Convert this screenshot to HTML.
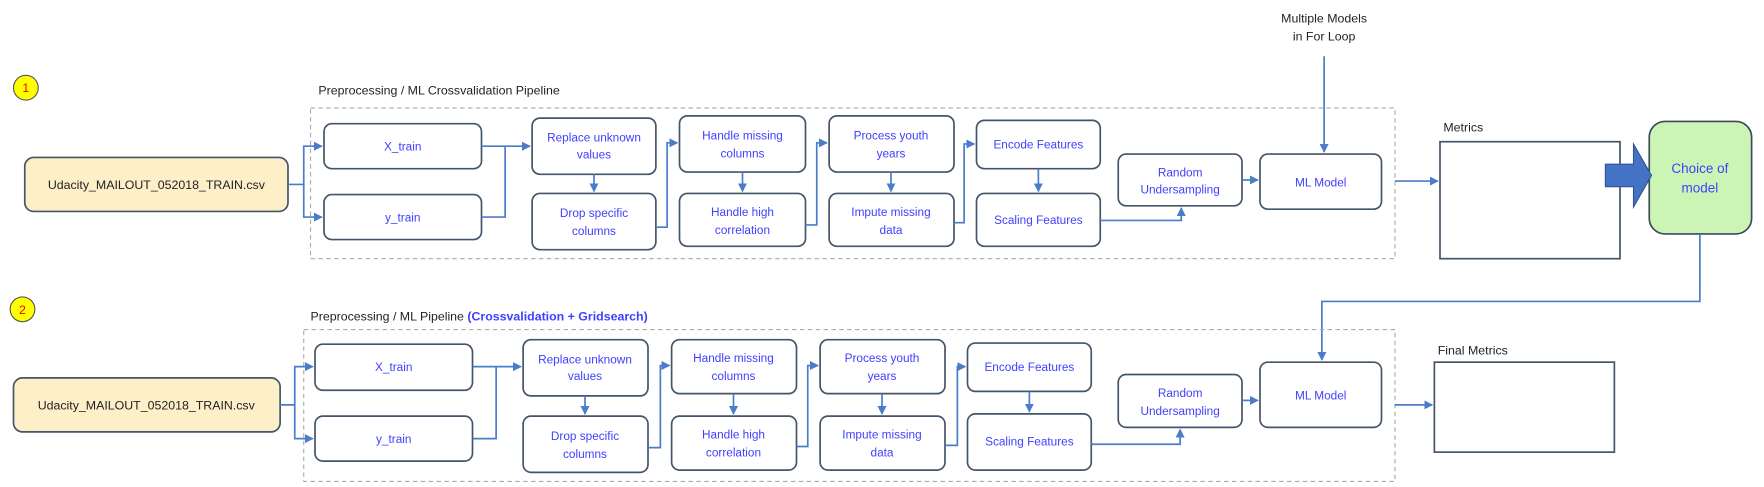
<!DOCTYPE html>
<html><head><meta charset="utf-8"><style>
html,body{margin:0;padding:0;background:#fff;}
svg{display:block;}
text{font-family:"Liberation Sans",sans-serif;}
.b{fill:#fff;stroke:#44546a;stroke-width:1.5;}
.t{fill:#4040ff;font-size:10.5px;text-anchor:middle;}
.k{fill:#222;font-size:11px;}
.c{fill:none;stroke:#4a7cc9;stroke-width:1.5;}
.d{fill:none;stroke:#aaa;stroke-width:1;stroke-dasharray:4,3;}
</style></head><body>
<svg width="1764" height="487" viewBox="0 0 1568 433" preserveAspectRatio="none" xmlns="http://www.w3.org/2000/svg">
<defs><marker id="a" markerWidth="8" markerHeight="8" refX="7" refY="4" orient="auto" markerUnits="userSpaceOnUse"><path d="M0,0 L8,4 L0,8 z" fill="#4a7cc9"/></marker></defs>

<!-- ROW 1 -->
<circle cx="23" cy="78" r="11" fill="#ffff00" stroke="#555" stroke-width="1"/>
<text x="23" y="82" font-size="11" fill="#e00" text-anchor="middle">1</text>
<text class="k" x="283" y="84">Preprocessing / ML Crossvalidation Pipeline</text>
<rect class="d" x="276" y="96" width="964" height="134"/>
<rect x="22" y="140" width="234" height="48" rx="8" fill="#fdf0c8" stroke="#44546a" stroke-width="1.5"/>
<text x="139" y="168" font-size="11" fill="#222" text-anchor="middle">Udacity_MAILOUT_052018_TRAIN.csv</text>

<rect class="b" x="288" y="110" width="140" height="40" rx="7"/><text class="t" x="358" y="134" font-size="12">X_train</text>
<rect class="b" x="288" y="173" width="140" height="40" rx="7"/><text class="t" x="358" y="197">y_train</text>
<path class="c" d="M256,164 H270 V130 H286" marker-end="url(#a)"/>
<path class="c" d="M270,164 V193 H286" marker-end="url(#a)"/>
<path class="c" d="M428,130 H471" marker-end="url(#a)"/>
<path class="c" d="M428,193 H449 V130"/>

<rect class="b" x="473" y="105" width="110" height="50" rx="7"/><text class="t" x="528" y="126">Replace unknown</text><text class="t" x="528" y="141">values</text>
<rect class="b" x="473" y="172" width="110" height="50" rx="7"/><text class="t" x="528" y="193">Drop specific</text><text class="t" x="528" y="209">columns</text>
<path class="c" d="M528,155 V170" marker-end="url(#a)"/>
<path class="c" d="M583,202 H593 V127 H602" marker-end="url(#a)"/>

<rect class="b" x="604" y="103" width="112" height="50" rx="7"/><text class="t" x="660" y="124">Handle missing</text><text class="t" x="660" y="140">columns</text>
<rect class="b" x="604" y="172" width="112" height="47" rx="7"/><text class="t" x="660" y="192">Handle high</text><text class="t" x="660" y="208">correlation</text>
<path class="c" d="M660,153 V170" marker-end="url(#a)"/>
<path class="c" d="M716,200 H726 V127 H735" marker-end="url(#a)"/>

<rect class="b" x="737" y="103" width="111" height="50" rx="7"/><text class="t" x="792" y="124">Process youth</text><text class="t" x="792" y="140">years</text>
<rect class="b" x="737" y="172" width="111" height="47" rx="7"/><text class="t" x="792" y="192">Impute missing</text><text class="t" x="792" y="208">data</text>
<path class="c" d="M792,153 V170" marker-end="url(#a)"/>
<path class="c" d="M848,198 H857 V128 H866" marker-end="url(#a)"/>

<rect class="b" x="868" y="107" width="110" height="43" rx="7"/><text class="t" x="923" y="132">Encode Features</text>
<rect class="b" x="868" y="172" width="110" height="47" rx="7"/><text class="t" x="923" y="199">Scaling Features</text>
<path class="c" d="M923,150 V170" marker-end="url(#a)"/>
<path class="c" d="M978,196 H1050 V185" marker-end="url(#a)"/>

<rect class="b" x="994" y="137" width="110" height="46" rx="7"/><text class="t" x="1049" y="157">Random</text><text class="t" x="1049" y="172">Undersampling</text>
<path class="c" d="M1104,160 H1118" marker-end="url(#a)"/>
<rect class="b" x="1120" y="137" width="108" height="49" rx="7"/><text class="t" x="1174" y="166">ML Model</text>

<text class="k" x="1177" y="20" text-anchor="middle" font-size="10.5">Multiple Models</text>
<text class="k" x="1177" y="36" text-anchor="middle" font-size="10.5">in For Loop</text>
<path class="c" d="M1177,50 V135" marker-end="url(#a)"/>

<path class="c" d="M1240,161 H1278" marker-end="url(#a)"/>
<text class="k" x="1283" y="117">Metrics</text>
<rect x="1280" y="126" width="160" height="104" fill="#fff" stroke="#44546a" stroke-width="1.5"/>
<rect x="1466" y="108" width="91" height="100" rx="14" fill="#ccf5b5" stroke="#3a4a5c" stroke-width="1.5"/>
<text x="1511" y="154" font-size="12" fill="#4040ff" text-anchor="middle">Choice of</text>
<text x="1511" y="171" font-size="12" fill="#4040ff" text-anchor="middle">model</text>
<path d="M1427,146 H1452 V128 L1468,156 L1452,184 V166 H1427 z" fill="#4472c4" stroke="#2f5597" stroke-width="1"/>
<path class="c" d="M1511,208 V268 H1175 V320" marker-end="url(#a)"/>

<!-- ROW 2 -->
<circle cx="20" cy="275" r="11" fill="#ffff00" stroke="#555" stroke-width="1"/>
<text x="20" y="279" font-size="11" fill="#e00" text-anchor="middle">2</text>
<text class="k" x="276" y="285">Preprocessing / ML Pipeline <tspan fill="#4040ff" font-weight="bold">(Crossvalidation + Gridsearch)</tspan></text>
<rect class="d" x="270" y="293" width="970" height="135"/>
<rect x="12" y="336" width="237" height="48" rx="8" fill="#fdf0c8" stroke="#44546a" stroke-width="1.5"/>
<text x="130" y="364" font-size="11" fill="#222" text-anchor="middle">Udacity_MAILOUT_052018_TRAIN.csv</text>

<rect class="b" x="280" y="306" width="140" height="41" rx="7"/><text class="t" x="350" y="330" font-size="12">X_train</text>
<rect class="b" x="280" y="370" width="140" height="40" rx="7"/><text class="t" x="350" y="394">y_train</text>
<path class="c" d="M249,360 H262 V326 H278" marker-end="url(#a)"/>
<path class="c" d="M262,360 V390 H278" marker-end="url(#a)"/>
<path class="c" d="M420,326 H463" marker-end="url(#a)"/>
<path class="c" d="M420,390 H441 V326"/>

<rect class="b" x="465" y="302" width="111" height="50" rx="7"/><text class="t" x="520" y="323">Replace unknown</text><text class="t" x="520" y="338">values</text>
<rect class="b" x="465" y="370" width="111" height="50" rx="7"/><text class="t" x="520" y="391">Drop specific</text><text class="t" x="520" y="407">columns</text>
<path class="c" d="M520,352 V368" marker-end="url(#a)"/>
<path class="c" d="M576,398 H587 V325 H595" marker-end="url(#a)"/>

<rect class="b" x="597" y="302" width="111" height="48" rx="7"/><text class="t" x="652" y="322">Handle missing</text><text class="t" x="652" y="338">columns</text>
<rect class="b" x="597" y="370" width="111" height="48" rx="7"/><text class="t" x="652" y="390">Handle high</text><text class="t" x="652" y="406">correlation</text>
<path class="c" d="M652,350 V368" marker-end="url(#a)"/>
<path class="c" d="M708,397 H718 V325 H727" marker-end="url(#a)"/>

<rect class="b" x="729" y="302" width="111" height="48" rx="7"/><text class="t" x="784" y="322">Process youth</text><text class="t" x="784" y="338">years</text>
<rect class="b" x="729" y="370" width="111" height="48" rx="7"/><text class="t" x="784" y="390">Impute missing</text><text class="t" x="784" y="406">data</text>
<path class="c" d="M784,350 V368" marker-end="url(#a)"/>
<path class="c" d="M840,396 H851 V326 H858" marker-end="url(#a)"/>

<rect class="b" x="860" y="305" width="110" height="43" rx="7"/><text class="t" x="915" y="330">Encode Features</text>
<rect class="b" x="860" y="368" width="110" height="50" rx="7"/><text class="t" x="915" y="396">Scaling Features</text>
<path class="c" d="M915,348 V366" marker-end="url(#a)"/>
<path class="c" d="M970,395 H1049 V382" marker-end="url(#a)"/>

<rect class="b" x="994" y="333" width="110" height="47" rx="7"/><text class="t" x="1049" y="353">Random</text><text class="t" x="1049" y="369">Undersampling</text>
<path class="c" d="M1104,356 H1118" marker-end="url(#a)"/>
<rect class="b" x="1120" y="322" width="108" height="58" rx="7"/><text class="t" x="1174" y="355">ML Model</text>

<path class="c" d="M1240,360 H1273" marker-end="url(#a)"/>
<text class="k" x="1278" y="315">Final Metrics</text>
<rect x="1275" y="322" width="160" height="80" fill="#fff" stroke="#44546a" stroke-width="1.5"/>
</svg>
</body></html>
